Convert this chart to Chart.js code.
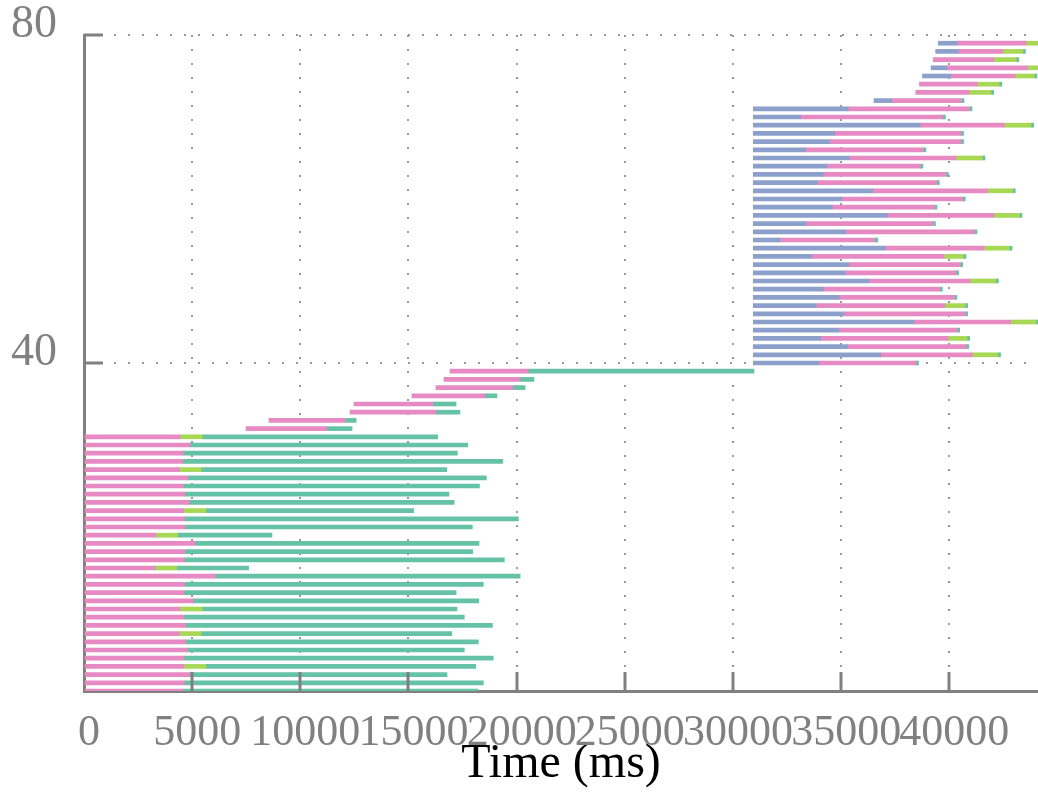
<!DOCTYPE html>
<html>
<head>
<meta charset="utf-8">
<script src="https://cdn.jsdelivr.net/npm/chart.js@4.4.1/dist/chart.umd.min.js"></script>
<style>
  html, body { margin: 0; padding: 0; background: #ffffff; }
  #wrap { width: 1038px; height: 804px; }
</style>
</head>
<body>
<div id="wrap"><canvas id="timeline"></canvas></div>
<script>
// One entry per row (row index 0..79), times in ms.
// startMs: first segment begins; pinkFromMs: pink phase begins (== startMs when no blue phase);
// limeFromMs: pink ends / lime begins; tealFromMs: lime ends / teal begins (== limeFromMs when no lime); endMs: row ends.
const startMs = [
  0, 0, 0, 0, 0, 0, 0, 0, 0, 0,
  0, 0, 0, 0, 0, 0, 0, 0, 0, 0,
  0, 0, 0, 0, 0, 0, 0, 0, 0, 0,
  0, 0, 7490, 8550, 12300, 12480, 15160, 16270, 16640, 16920,
  30940, 30940, 30940, 30940, 30940, 30940, 30940, 30940, 30940, 30940,
  30940, 30940, 30940, 30940, 30940, 30940, 30940, 30940, 30940, 30940,
  30940, 30940, 30940, 30940, 30940, 30940, 30940, 30940, 30940, 30940,
  30940, 30940, 36520, 38450, 38620, 38760, 39160, 39260, 39370, 39490,
];
const pinkFromMs = [
  0, 0, 0, 0, 0, 0, 0, 0, 0, 0,
  0, 0, 0, 0, 0, 0, 0, 0, 0, 0,
  0, 0, 0, 0, 0, 0, 0, 0, 0, 0,
  0, 0, 7490, 8550, 12300, 12480, 15160, 16270, 16640, 16920,
  33970, 36830, 35290, 34060, 34900, 38370, 35120, 33850, 34900, 34180,
  36290, 35200, 35350, 33640, 37040, 32180, 35210, 33380, 37140, 34590,
  35030, 36460, 33900, 34180, 34340, 35370, 33360, 34460, 34710, 38650,
  33130, 35320, 37340, 38450, 38620, 40080, 39880, 39260, 40420, 40350,
];
const limeFromMs = [
  4580, 4640, 4870, 4620, 4620, 4780, 4700, 4410, 4700, 4620,
  4440, 5050, 4620, 4660, 6070, 3300, 4640, 4670, 5130, 3330,
  4670, 4640, 4610, 4870, 4670, 4590, 4790, 4410, 4560, 4590,
  4900, 4440, 11230, 12070, 16270, 16130, 18540, 19830, 20160, 20530,
  38460, 41070, 40780, 39940, 40360, 42840, 40730, 39790, 40230, 39560,
  40960, 40310, 40500, 39760, 41610, 36570, 41160, 39240, 42070, 39310,
  40620, 41760, 39420, 39840, 38660, 40310, 38800, 40540, 40540, 42550,
  39700, 40930, 40560, 40910, 41300, 43040, 43610, 42060, 42470, 43550,
];
const tealFromMs = [
  4580, 4640, 4870, 5630, 4620, 4780, 4700, 5420, 4700, 4620,
  5460, 5050, 4620, 4660, 6070, 4290, 4640, 4670, 5130, 4330,
  4670, 4640, 5630, 4870, 4670, 4590, 4790, 5420, 4560, 4590,
  4900, 5470, 11230, 12070, 16270, 16130, 18540, 19830, 20160, 20530,
  38460, 42250, 40780, 40820, 40360, 44010, 40730, 40730, 40230, 39560,
  42150, 40310, 40500, 40650, 42780, 36570, 41160, 39240, 43240, 39310,
  40620, 42930, 39420, 39840, 38660, 41530, 38800, 40540, 40540, 43780,
  39700, 40930, 40560, 41930, 42310, 43930, 44600, 43090, 43400, 44600,
];
const endMs = [
  18200, 18460, 16780, 18110, 18920, 17580, 18230, 17000, 18880, 17580,
  17240, 18250, 17200, 18460, 20160, 7610, 19430, 17970, 18260, 8690,
  17950, 20080, 15240, 17110, 16870, 18280, 18600, 16770, 19360, 17260,
  17740, 16350, 12390, 12580, 17380, 17200, 19090, 20390, 20800, 30970,
  38580, 42370, 40900, 40940, 40480, 44130, 40850, 40850, 40350, 39680,
  42270, 40430, 40620, 40770, 42900, 36690, 41280, 39360, 43360, 39430,
  40740, 43050, 39540, 39960, 38780, 41650, 38920, 40660, 40660, 43900,
  39820, 41050, 40680, 42050, 42430, 44050, 44700, 43210, 43520, 44700,
];

const xTickValues = [0, 5000, 10000, 15000, 20000, 25000, 30000, 35000, 40000];
const yTickValues = [0, 40, 80];

const axisGrey = '#808080';
const fontFamily = '"Liberation Serif", "Times New Roman", serif';

function segments(from, to) {
  const out = [];
  for (let i = 0; i < from.length; i++) {
    if (to[i] > from[i]) out.push({ x: [from[i], to[i]], y: i });
  }
  return out;
}

function phase(label, color, data) {
  return {
    label: label,
    data: data,
    backgroundColor: color,
    borderWidth: 0,
    barThickness: 4,
    grouped: false,
  };
}

// Inward tick marks (Chart.js only draws them outward).
const inwardTicks = {
  id: 'inwardTicks',
  afterDatasetsDraw(chart) {
    const { ctx, chartArea: a, scales: { x, y } } = chart;
    ctx.save();
    ctx.strokeStyle = axisGrey;
    ctx.lineWidth = 3;
    ctx.beginPath();
    xTickValues.forEach(v => {
      if (v === 0) return;
      const px = Math.round(x.getPixelForValue(v));
      ctx.moveTo(px, a.bottom);
      ctx.lineTo(px, a.bottom - 19);
    });
    yTickValues.forEach(v => {
      if (v === 0) return;
      const py = Math.round(y.getPixelForValue(v));
      ctx.moveTo(a.left, py);
      ctx.lineTo(a.left + 19, py);
    });
    ctx.stroke();
    ctx.restore();
  },
};

// Pin the plot area: fixed axis sizes and no extra edge padding from the labels.
function fixBox(size) {
  return scale => {
    if (scale.isHorizontal()) scale.height = size; else scale.width = size;
    scale.paddingTop = 0;
    scale.paddingBottom = 0;
    scale.paddingLeft = 0;
    scale.paddingRight = 0;
  };
}

new Chart(document.getElementById('timeline'), {
  type: 'bar',
  data: {
    datasets: [
      phase('blue', '#8DA0CB', segments(startMs, pinkFromMs)),
      phase('pink', '#E78AC3', segments(pinkFromMs, limeFromMs)),
      phase('lime', '#A6D854', segments(limeFromMs, tealFromMs)),
      phase('teal', '#66C2A5', segments(tealFromMs, endMs)),
    ],
  },
  plugins: [inwardTicks],
  options: {
    indexAxis: 'y',
    responsive: true,
    maintainAspectRatio: false,
    animation: false,
    layout: { padding: { top: 35, left: 0, right: 0, bottom: 0 } },
    plugins: {
      legend: { display: false },
      tooltip: { enabled: false },
    },
    scales: {
      x: {
        type: 'linear',
        min: 0,
        max: 44100,
        afterBuildTicks: scale => { scale.ticks = xTickValues.map(v => ({ value: v })); },
        afterFit: fixBox(113),
        ticks: {
          autoSkip: false,
          maxRotation: 0,
          minRotation: 0,
          padding: 20,
          labelOffset: 5,
          color: axisGrey,
          font: { family: fontFamily, size: 44, lineHeight: 1 },
          callback: value => String(value),
        },
        grid: { color: '#999999', lineWidth: 2, drawTicks: false },
        border: { color: axisGrey, width: 3, dash: [2, 12] },
        title: {
          display: true,
          text: 'Time (ms)',
          color: '#000000',
          font: { family: fontFamily, size: 48, lineHeight: 1 },
          padding: { top: 0, bottom: 16 },
        },
      },
      y: {
        type: 'linear',
        min: 0,
        max: 80,
        offset: false,
        afterBuildTicks: scale => { scale.ticks = yTickValues.map(v => ({ value: v })); },
        afterFit: fixBox(84),
        ticks: {
          padding: 27,
          labelOffset: -10,
          color: axisGrey,
          font: { family: fontFamily, size: 46, lineHeight: 1 },
          callback: value => (value === 0 ? '' : String(value)),
        },
        grid: {
          offset: false,
          color: ctx => (ctx.tick && ctx.tick.value === 0 ? 'rgba(0,0,0,0)' : '#999999'),
          lineWidth: 2,
          drawTicks: false,
        },
        border: { color: axisGrey, width: 3, dash: [2, 12] },
      },
    },
  },
});
</script>
</body>
</html>
